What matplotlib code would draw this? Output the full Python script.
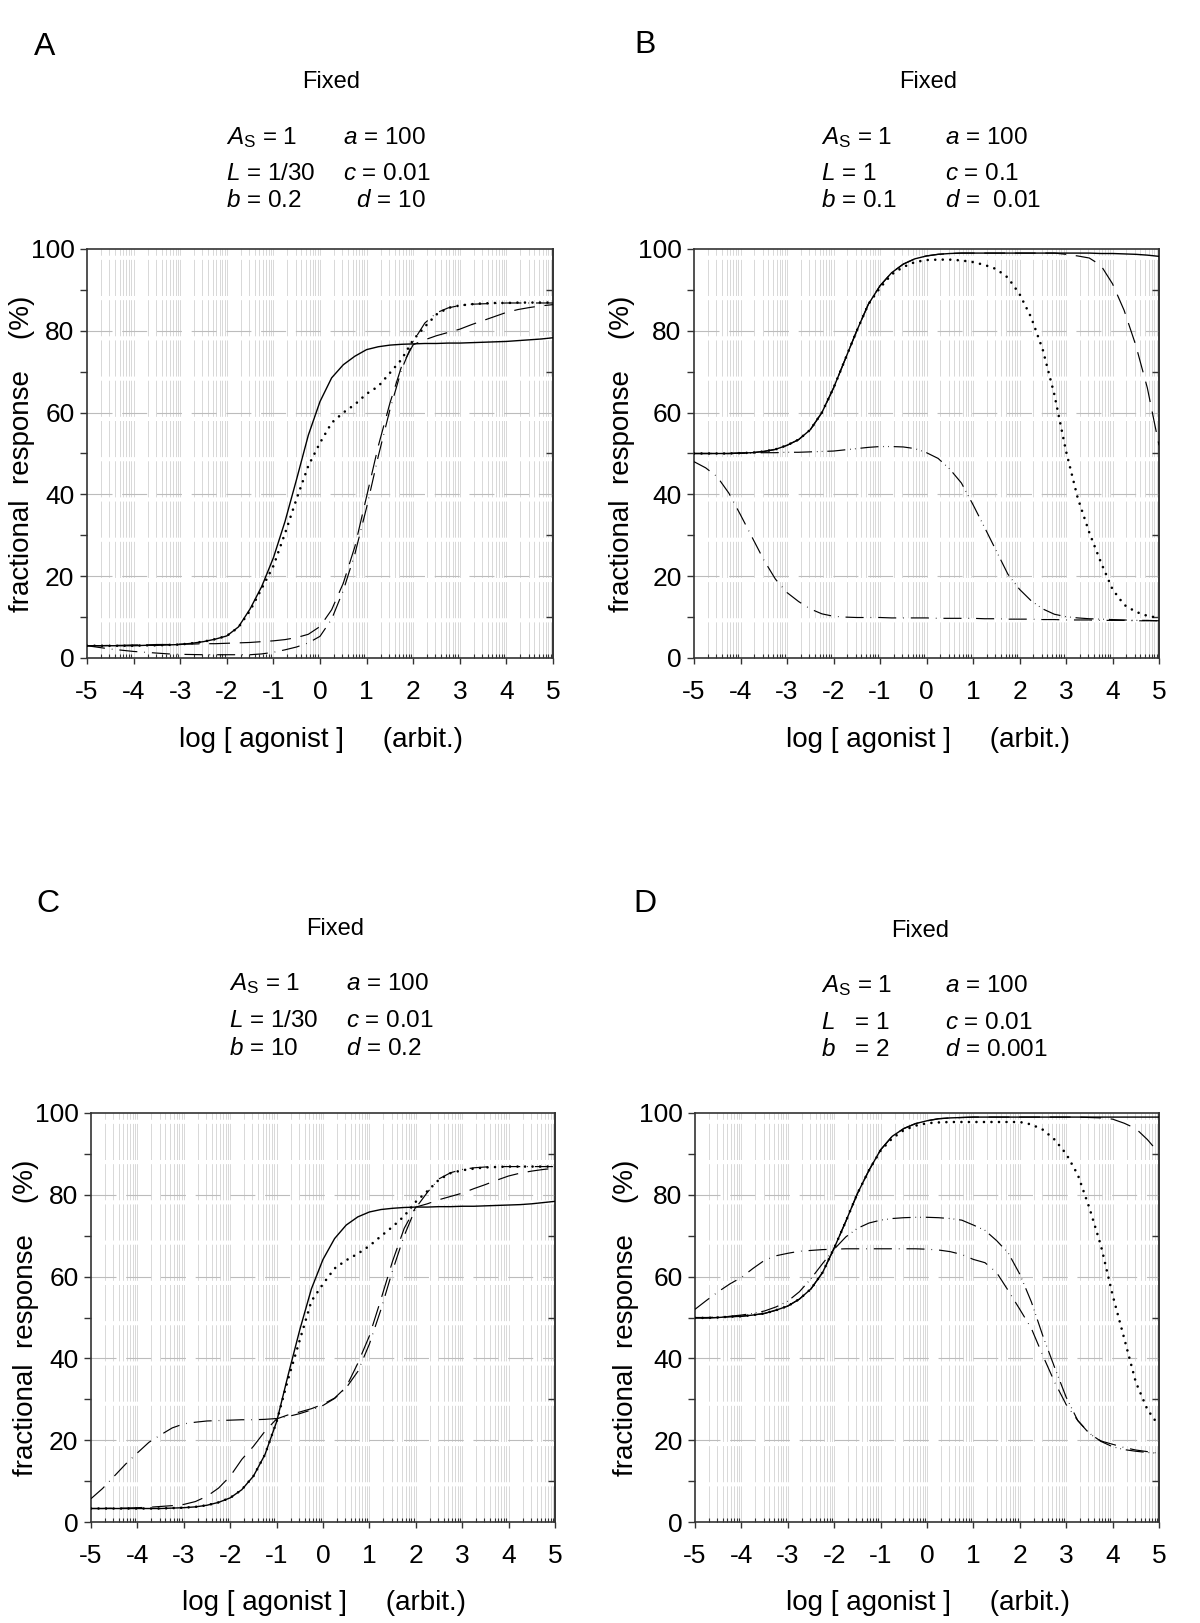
import matplotlib
matplotlib.use('Agg')
import matplotlib.pyplot as plt
import numpy as np

plt.rcParams['font.family'] = ['Liberation Sans', 'DejaVu Sans']
plt.rcParams['mathtext.fontset'] = 'custom'
plt.rcParams['mathtext.rm'] = 'Liberation Sans'
plt.rcParams['mathtext.it'] = 'Liberation Sans:italic'
plt.rcParams['lines.scale_dashes'] = False

log_agonist = np.linspace(-5, 5, 41)

# ---- panel A ----
a_solid = [3.0, 3.0, 3.0, 3.0, 3.0, 3.1, 3.1, 3.2, 3.3, 3.6, 4.0, 4.6, 5.4, 7.6, 12.0, 17.5, 24.5,
           33.4, 43.8, 54.5, 62.7, 68.5, 71.7, 73.8, 75.4, 76.1, 76.5, 76.7, 76.8, 76.9, 76.9, 77.0,
           77.0, 77.1, 77.2, 77.3, 77.4, 77.6, 77.8, 78.0, 78.3]
a_dotted = [3.0, 3.0, 3.0, 3.0, 3.0, 3.1, 3.1, 3.2, 3.3, 3.6, 4.0, 4.6, 5.4, 7.5, 11.6, 17.0, 22.5,
            30.5, 39.0, 47.0, 52.6, 57.5, 60.0, 62.0, 64.6, 66.4, 69.7, 73.0, 77.8, 81.0, 84.0, 85.6,
            86.2, 86.5, 86.7, 86.8, 86.8, 86.9, 86.9, 86.9, 86.9]
a_dash = [3.0, 3.0, 3.1, 3.1, 3.2, 3.2, 3.3, 3.3, 3.4, 3.4, 3.5, 3.5, 3.6, 3.7, 3.8, 4.0, 4.2,
          4.5, 5.0, 5.8, 7.7, 11.8, 18.3, 27.3, 39.5, 51.8, 62.3, 71.3, 76.6, 77.8, 78.8, 79.6,
          80.4, 81.5, 82.5, 83.5, 84.5, 85.2, 85.7, 86.1, 86.4]
a_dashdot = [3.0, 2.6, 2.2, 1.9, 1.6, 1.4, 1.2, 1.0, 0.9, 0.85, 0.8, 0.8, 0.8, 0.8, 0.8, 1.0, 1.4,
             2.0, 2.7, 3.7, 5.3, 9.5, 16.5, 25.5, 36.8, 49.3, 60.7, 70.5, 77.4, 81.9, 84.4, 85.6,
             86.2, 86.5, 86.6, 86.7, 86.8, 86.8, 86.8, 86.8, 86.8]

# ---- panel B ----
b_solid = [50.0, 50.0, 50.0, 50.0, 50.1, 50.2, 50.5, 51.0, 52.0, 53.4, 55.8, 60.0, 66.0, 73.0,
           80.0, 86.5, 91.0, 94.2, 96.3, 97.6, 98.3, 98.7, 98.9, 99.0, 99.0, 99.0, 99.0, 99.0,
           99.0, 99.0, 99.0, 99.0, 99.0, 99.0, 99.0, 98.9, 98.9, 98.8, 98.7, 98.5, 98.2]
b_dotted = [50.0, 50.0, 50.0, 50.0, 50.1, 50.2, 50.5, 51.0, 52.0, 53.4, 55.8, 60.0, 66.0, 73.0,
            80.0, 86.5, 90.5, 93.8, 95.6, 96.8, 97.3, 97.4, 97.4, 97.2, 96.8, 96.1, 95.1, 93.0,
            89.0, 83.3, 75.4, 64.4, 50.6, 39.2, 30.7, 23.4, 16.8, 13.0, 11.3, 10.3, 9.8]
b_dash = [50.0, 50.0, 50.0, 50.0, 50.1, 50.2, 50.5, 51.0, 52.0, 53.4, 55.8, 60.0, 66.0, 73.0,
          80.0, 86.5, 91.0, 94.2, 96.3, 97.6, 98.3, 98.7, 98.9, 99.0, 99.0, 99.0, 99.0, 99.0,
          99.0, 99.0, 99.0, 99.0, 98.7, 98.3, 97.8, 96.0, 91.5, 85.0, 76.5, 66.0, 52.0]
b_dashdotdot = [50.0, 50.0, 50.0, 50.0, 50.1, 50.1, 50.2, 50.2, 50.3, 50.3, 50.4, 50.5, 50.6,
                50.9, 51.2, 51.5, 51.7, 51.7, 51.6, 51.2, 50.2, 48.8, 46.2, 42.8, 37.5, 31.9,
                26.2, 20.5, 16.8, 14.0, 12.0, 10.7, 10.1, 9.8, 9.6, 9.5, 9.4, 9.3, 9.2, 9.2, 9.1]
b_dashdot = [48.0, 46.5, 44.3, 40.3, 35.0, 29.5, 24.0, 19.3, 16.0, 13.8, 12.0, 10.8, 10.2, 10.0,
             9.9, 9.9, 9.9, 9.8, 9.8, 9.8, 9.8, 9.7, 9.7, 9.7, 9.7, 9.6, 9.6, 9.5, 9.5, 9.5,
             9.4, 9.4, 9.3, 9.3, 9.3, 9.2, 9.2, 9.2, 9.1, 9.1, 9.1]

# ---- panel C ----
c_solid = [3.3, 3.3, 3.3, 3.3, 3.3, 3.3, 3.3, 3.4, 3.5, 3.7, 4.1, 4.8, 5.9, 7.9, 11.2, 16.5, 24.5,
           36.0, 47.0, 57.0, 64.2, 69.3, 72.6, 74.6, 75.8, 76.4, 76.7, 76.9, 77.0, 77.0, 77.1,
           77.1, 77.2, 77.2, 77.3, 77.4, 77.5, 77.6, 77.8, 78.1, 78.4]
c_dotted = [3.3, 3.3, 3.3, 3.3, 3.3, 3.3, 3.3, 3.4, 3.5, 3.7, 4.1, 4.8, 5.9, 7.9, 11.2, 16.5, 24.5,
            35.0, 44.5, 54.0, 58.2, 62.0, 64.0, 65.6, 67.5, 69.9, 72.2, 74.8, 78.3, 80.9, 83.7,
            85.3, 86.0, 86.4, 86.7, 86.8, 86.9, 86.9, 86.9, 86.9, 86.9]
c_dash = [3.3, 3.3, 3.4, 3.4, 3.5, 3.6, 3.8, 4.0, 4.3, 5.0, 6.3, 8.3, 11.2, 15.3, 18.5, 22.2, 25.2,
          26.2, 26.9, 27.7, 28.8, 30.3, 33.0, 38.8, 45.5, 54.5, 63.8, 71.8, 77.0, 77.8, 78.8,
          79.6, 80.4, 81.5, 82.5, 83.6, 84.6, 85.3, 85.8, 86.2, 86.5]
c_dashdot = [5.7, 8.2, 11.2, 14.2, 16.9, 19.5, 21.3, 23.0, 24.0, 24.4, 24.7, 24.8, 24.9, 25.0,
             25.0, 25.1, 25.3, 25.8, 26.5, 27.4, 28.5, 30.2, 32.8, 36.8, 43.5, 52.0, 61.5, 70.0,
             76.8, 80.6, 83.9, 85.4, 86.2, 86.6, 86.8, 86.9, 86.9, 86.9, 86.9, 86.9, 86.9]

# ---- panel D ----
d_solid = [49.9, 49.9, 50.0, 50.2, 50.3, 50.6, 51.0, 51.8, 52.8, 54.5, 57.0, 61.0, 67.0, 73.5,
           80.3, 86.0, 91.0, 94.3, 96.2, 97.4, 98.1, 98.6, 98.8, 98.9, 99.0, 99.0, 99.0, 99.0,
           99.0, 99.0, 99.0, 99.0, 99.0, 99.0, 99.0, 99.0, 99.0, 99.0, 99.0, 99.0, 99.0]
d_dotted = [49.9, 49.9, 50.0, 50.2, 50.3, 50.6, 51.0, 51.8, 52.8, 54.5, 57.0, 61.0, 67.0, 73.5,
            80.3, 86.0, 90.8, 93.8, 95.8, 96.9, 97.5, 97.7, 97.8, 97.8, 97.8, 97.8, 97.8, 97.8,
            97.8, 97.2, 95.9, 93.5, 90.0, 84.9, 76.8, 67.5, 55.5, 44.9, 34.2, 27.5, 23.5]
d_dash = [49.9, 49.9, 50.0, 50.2, 50.3, 50.6, 51.0, 51.8, 52.8, 54.5, 57.0, 61.0, 67.0, 73.5,
          80.3, 86.0, 91.0, 94.3, 96.2, 97.4, 98.1, 98.6, 98.8, 98.9, 99.0, 99.0, 99.0, 99.0,
          99.0, 99.0, 99.0, 99.0, 99.0, 99.0, 98.9, 98.8, 98.5, 97.5, 96.2, 93.5, 90.2]
d_dashdotdot = [50.0, 50.0, 50.1, 50.3, 50.6, 51.0, 51.6, 52.6, 54.0, 56.3, 59.5, 63.2, 66.7,
                69.7, 71.8, 73.1, 73.8, 74.2, 74.4, 74.5, 74.5, 74.4, 74.2, 73.8, 72.6, 71.3,
                68.8, 65.8, 60.6, 53.8, 45.4, 37.8, 30.5, 24.8, 21.7, 19.7, 18.4, 17.7, 17.3,
                17.0, 16.8]
d_dashdot = [52.0, 54.2, 56.3, 58.2, 59.8, 62.0, 64.0, 65.1, 65.7, 66.2, 66.4, 66.6, 66.7, 66.8,
             66.8, 66.8, 66.8, 66.8, 66.8, 66.8, 66.7, 66.5, 66.1, 65.4, 64.2, 63.4, 61.0, 56.6,
             52.0, 47.3, 40.6, 34.2, 28.7, 24.8, 21.6, 19.8, 19.0, 18.2, 17.6, 17.2, 16.8]

x_ticks = [-5, -4, -3, -2, -1, 0, 1, 2, 3, 4, 5]
y_ticks = [0, 20, 40, 60, 80, 100]

W, H = 1200, 1623

STYLES = {
    'dash': dict(ls=(0, (15, 7)), lw=0.85, zorder=3),
    'dashdotdot': dict(ls=(0, (13, 3.5, 0.5, 3, 0.5, 3.5)), lw=0.85, zorder=3),
    'dashdot': dict(ls=(0, (13, 5, 0.5, 5)), lw=0.85, zorder=3),
    'solid': dict(ls='-', lw=1.0, zorder=4),
    'dotted': dict(ls=(0, (0.01, 5.4)), lw=1.9, zorder=5, dash_capstyle='round'),
}


def fx(x):
    return x / W


def fy(y):
    return 1 - y / H


def box(left, top, right, bottom):
    return [left / W, 1 - bottom / H, (right - left) / W, (bottom - top) / H]


def style_axes(ax):
    ax.set_xlim(-5, 5)
    ax.set_ylim(0, 100)

    minor_x = [k + np.log10(m) for k in range(-5, 5) for m in range(2, 10)]
    for k in range(-5, 5):
        for m in range(1, 10):
            xv = k + np.log10(m)
            if xv <= -5:
                continue
            ax.axvline(xv, color='#d8d8d8', lw=0.7, ls=(0, (26, 3)), zorder=0)
    for yv in (20, 40, 60, 80):
        ax.axhline(yv, color='#bcbcbc', lw=0.8, ls=(0, (18, 7)), zorder=0.5)

    ax.set_xticks(x_ticks)
    ax.set_xticks(minor_x, minor=True)
    ax.set_yticks(y_ticks)
    ax.set_yticks([10, 30, 50, 70, 90], minor=True)

    ax.tick_params(axis='x', which='major', direction='out', length=4.5, width=1,
                   labelsize=19, pad=11, top=False, color='#333333')
    ax.tick_params(axis='x', which='minor', direction='in', length=3, width=0.8,
                   top=False, color='#333333')
    ax.tick_params(axis='y', which='both', direction='out', length=5, width=1,
                   left=True, right=False, labelsize=19, pad=4, color='#333333')
    ax.set_xticklabels([str(v) for v in x_ticks])

    sec = ax.secondary_yaxis('right')
    sec.set_yticks([10, 30, 50, 70, 90])
    sec.tick_params(direction='in', length=5, width=1, labelright=False, color='#333333')
    sec.spines['right'].set_color('#333333')
    sec.spines['right'].set_linewidth(1.2)

    for s in ax.spines.values():
        s.set_color('#333333')
        s.set_linewidth(1.2)


panels = [
    dict(letter='A', box=box(87, 249, 553, 658), letter_xy=(45, 47), fixed_xy=(331, 82),
         col1=226, col2=343, rows=(144, 180, 207),
         params=[(r'$A_{\mathrm{S}}$ = 1', r'$a$ = 100'),
                 (r'$L$ = 1/30', r'$c$ = 0.01'),
                 (r'$b$ = 0.2', r'  $d$ = 10')],
         ylabel_x=22, xlabel_xy=(321, 740),
         curves=[(a_dash, 'dash'), (a_dashdot, 'dashdot'),
                 (a_solid, 'solid'), (a_dotted, 'dotted')]),
    dict(letter='B', box=box(694, 249, 1159, 658), letter_xy=(645, 45), fixed_xy=(928, 82),
         col1=821, col2=945, rows=(144, 180, 207),
         params=[(r'$A_{\mathrm{S}}$ = 1', r'$a$ = 100'),
                 (r'$L$ = 1', r'$c$ = 0.1'),
                 (r'$b$ = 0.1', r'$d$ =  0.01')],
         ylabel_x=622, xlabel_xy=(928, 740),
         curves=[(b_dash, 'dash'), (b_dashdotdot, 'dashdotdot'), (b_dashdot, 'dashdot'),
                 (b_solid, 'solid'), (b_dotted, 'dotted')]),
    dict(letter='C', box=box(91, 1113, 555, 1522), letter_xy=(48, 904), fixed_xy=(335, 929),
         col1=229, col2=346, rows=(990, 1027, 1055),
         params=[(r'$A_{\mathrm{S}}$ = 1', r'$a$ = 100'),
                 (r'$L$ = 1/30', r'$c$ = 0.01'),
                 (r'$b$ = 10', r'$d$ = 0.2')],
         ylabel_x=26, xlabel_xy=(324, 1603),
         curves=[(c_dash, 'dash'), (c_dashdot, 'dashdot'),
                 (c_solid, 'solid'), (c_dotted, 'dotted')]),
    dict(letter='D', box=box(695, 1113, 1159, 1522), letter_xy=(645, 904), fixed_xy=(920, 931),
         col1=821, col2=945, rows=(992, 1029, 1056),
         params=[(r'$A_{\mathrm{S}}$ = 1', r'$a$ = 100'),
                 (r'$L$   = 1', r'$c$ = 0.01'),
                 (r'$b$   = 2', r'$d$ = 0.001')],
         ylabel_x=626, xlabel_xy=(928, 1603),
         curves=[(d_dash, 'dash'), (d_dashdotdot, 'dashdotdot'), (d_dashdot, 'dashdot'),
                 (d_solid, 'solid'), (d_dotted, 'dotted')]),
]


def main():
    fig = plt.figure(figsize=(12, 16.23), dpi=100)

    for p in panels:
        ax = fig.add_axes(p['box'])
        style_axes(ax)
        for values, style in p['curves']:
            ax.plot(log_agonist, values, color='black', **STYLES[style])

        fig.text(fx(p['letter_xy'][0]), fy(p['letter_xy'][1]), p['letter'],
                 fontsize=23, ha='center', va='center')
        fig.text(fx(p['fixed_xy'][0]), fy(p['fixed_xy'][1]), 'Fixed',
                 fontsize=17, ha='center', va='center')
        for (left_txt, right_txt), yb in zip(p['params'], p['rows']):
            fig.text(fx(p['col1']), fy(yb), left_txt, fontsize=17.5, ha='left', va='baseline')
            fig.text(fx(p['col2']), fy(yb), right_txt, fontsize=17.5, ha='left', va='baseline')

        bx = p['box']
        yc = bx[1] + bx[3] / 2
        fig.text(fx(p['ylabel_x']), yc, 'fractional  response    (%)', fontsize=20,
                 rotation=90, ha='center', va='center')
        fig.text(fx(p['xlabel_xy'][0]), fy(p['xlabel_xy'][1]), 'log [ agonist ]     (arbit.)',
                 fontsize=20, ha='center', va='center')

    fig.savefig('out.png', dpi=100, facecolor='white')


if __name__ == '__main__':
    main()
